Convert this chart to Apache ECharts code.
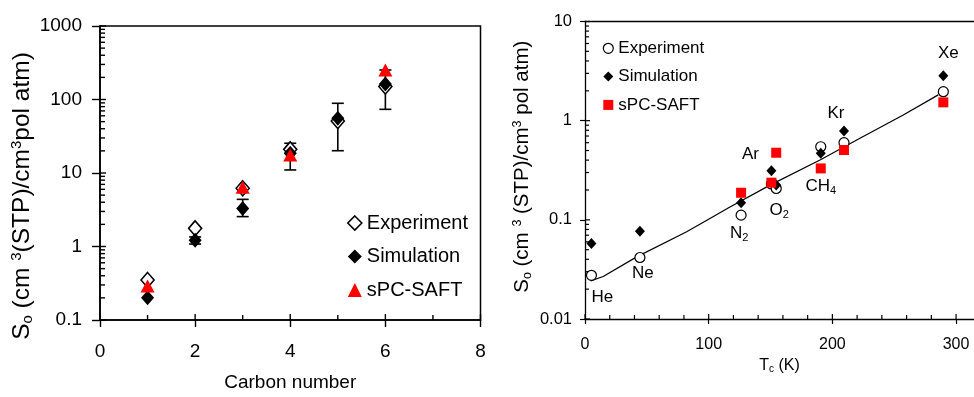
<!DOCTYPE html>
<html>
<head>
<meta charset="utf-8">
<script src="https://cdn.jsdelivr.net/npm/echarts@6/dist/echarts.min.js"></script>
<style>
  html, body { margin: 0; padding: 0; background: #fff; }
  #chart { width: 974px; height: 397px; }
</style>
</head>
<body>
<div id="chart"></div>
<script>
// ---- n-alkanes: infinite-dilution solubility vs carbon number ----
const carbonNumbers = [1, 2, 3, 4, 5, 6];
const alkExperiment = [0.35, 1.77, 6.2, 21, 51, 150];
const alkSimulation = [0.20, 1.22, 3.3, 18.5, 55.5, 163];
const alkSpcSaft    = [0.29, null, 6.4, 17.6, null, 252];
const alkSimLow     = [null, 1.08, 2.55, 11.0, 20.1, 73.5];
const alkSimHigh    = [null, 1.35, 4.38, 25.4, 88.8, 252];

// ---- light gases: solubility vs critical temperature ----
const gases         = ['He', 'Ne', 'N2', 'Ar', 'O2', 'CH4', 'Kr', 'Xe'];
const gasLabels     = ['He', 'Ne', 'N{s|2}', 'Ar', 'O{s|2}', 'CH{s|4}', 'Kr', 'Xe'];
const criticalT     = [5.2, 44.4, 126.2, 150.7, 154.6, 190.6, 209.4, 289.7];
const gasExperiment = [0.0276, 0.0417, 0.1115, 0.23, 0.207, 0.546, 0.60, 1.96];
const gasSimulation = [0.0577, 0.0769, 0.1485, 0.313, 0.224, 0.468, 0.787, 2.83];
const gasSpcSaft    = [null, null, 0.1875, 0.237, 0.475, 0.330, 0.506, 1.53];

// correlation curve
const fitT = [4.6, 14.7, 41.8, 82.2, 101, 117.2, 149.6, 190, 222.3, 257.3, 285.6];
const fitS = [0.0242, 0.0268, 0.0423, 0.0757, 0.1033, 0.135, 0.224, 0.401, 0.664, 1.14, 1.82];

// axis ticks
const leftXTicks  = [0, 2, 4, 6, 8];
const rightXTicks = [0, 100, 200, 300];

// label placement next to the experimental points (px)
const gasLabelOffsets = [[11, 22], [3, 16], [-2, 18], [-21, -30], [3, 22], [0, 40], [-8, -29], [5, -38]];

const FONT = '"Liberation Sans", Arial, Helvetica, sans-serif';
const T_MAX = 314.5;   // right panel is cut at the page edge

function logMinor(expMin, expMax) {
  const out = [];
  for (let e = expMin; e < expMax; e++) {
    for (let m = 2; m <= 9; m++) out.push(m * Math.pow(10, e));
  }
  return out;
}
function logMajor(expMin, expMax) {
  const out = [];
  for (let e = expMin; e <= expMax; e++) out.push(Math.pow(10, e));
  return out;
}

// inner tick marks: [x, y, direction (0 = up from x axis, 1 = right from y axis), length]
function innerTicks(xMajor, xMinor, yMajor, yMinor, xAxisAt, yAxisAt, majorLen, minorLen) {
  const items = [];
  xMajor.forEach(v => items.push([v, yAxisAt, 0, majorLen]));
  xMinor.forEach(v => items.push([v, yAxisAt, 0, minorLen]));
  yMajor.forEach(v => items.push([xAxisAt, v, 1, majorLen]));
  yMinor.forEach(v => items.push([xAxisAt, v, 1, minorLen]));
  return items;
}

function tickSeries(gridIdx, data, width) {
  return {
    type: 'custom', xAxisIndex: gridIdx, yAxisIndex: gridIdx, silent: true, clip: false, z: 1,
    data: data,
    encode: { x: 0, y: 1 },
    renderItem: function (params, api) {
      const p = api.coord([api.value(0), api.value(1)]);
      const dir = api.value(2), len = api.value(3);
      const shape = dir === 0
        ? { x1: p[0], y1: p[1], x2: p[0], y2: p[1] - len }
        : { x1: p[0], y1: p[1], x2: p[0] + len, y2: p[1] };
      return { type: 'line', shape: shape, style: { stroke: '#000', lineWidth: width } };
    }
  };
}

const leftTicks = innerTicks(leftXTicks, [1, 3, 5, 7], logMajor(-1, 3), logMinor(-1, 3), 0, 0.1, 6, 5);
const rightXMinor = [];
for (let t = 20; t < T_MAX; t += 20) if (t % 100 !== 0) rightXMinor.push(t);
const rightTicks = innerTicks(rightXTicks, rightXMinor, logMajor(-2, 1), logMinor(-2, 1), 0, 0.01, 5, 4);

const errorData = [];
carbonNumbers.forEach((c, i) => {
  if (alkSimLow[i] != null) errorData.push([c, alkSimLow[i], alkSimHigh[i]]);
});

const pairs = (xs, ys) => xs.map((x, i) => [x, ys[i]]).filter(p => p[1] != null);

const axisFmt = v => String(Number(v.toPrecision(4)));

const chart = echarts.init(document.getElementById('chart'), null, { renderer: 'canvas' });

const option = {
  animation: false,
  backgroundColor: '#fff',
  textStyle: { fontFamily: FONT, color: '#000' },
  grid: [
    { left: 100, top: 26, width: 380.5, height: 294, show: true, borderColor: '#000', borderWidth: 1.5, backgroundColor: 'transparent', containLabel: false },
    { left: 585, top: 21.5, width: 389, height: 297.5, show: false, containLabel: false }
  ],
  xAxis: [
    {
      gridIndex: 0, type: 'value', min: 0, max: 8, interval: 2,
      axisLine: { lineStyle: { color: '#000', width: 1.6 } },
      axisTick: { show: true, length: 7, lineStyle: { color: '#000', width: 1.4 } },
      splitLine: { show: false },
      axisLabel: { color: '#000', fontSize: 19, fontFamily: FONT, margin: 22 },
      name: 'Carbon number', nameLocation: 'middle', nameGap: 53,
      nameTextStyle: { color: '#000', fontSize: 19, fontFamily: FONT }
    },
    {
      gridIndex: 1, type: 'value', min: 0, max: T_MAX, interval: 100,
      axisLine: { lineStyle: { color: '#000', width: 1.3 } },
      axisTick: { show: true, length: 5, lineStyle: { color: '#000', width: 1.2 } },
      splitLine: { show: false },
      axisLabel: { color: '#000', fontSize: 16, fontFamily: FONT, margin: 18, showMaxLabel: false },
      name: 'T{s|c} (K)', nameLocation: 'middle', nameGap: 38,
      nameTextStyle: {
        color: '#000', fontSize: 16, fontFamily: FONT,
        rich: { s: { fontSize: 10, fontFamily: FONT, color: '#000', verticalAlign: 'bottom', lineHeight: 10 } }
      }
    },
    {
      // top frame line of the right panel
      gridIndex: 1, type: 'value', position: 'top', min: 0, max: T_MAX,
      axisLine: { show: true, lineStyle: { color: '#000', width: 1.3 } },
      axisTick: { show: false }, axisLabel: { show: false }, splitLine: { show: false }
    }
  ],
  yAxis: [
    {
      gridIndex: 0, type: 'log', logBase: 10, min: 0.1, max: 1000, splitNumber: 4,
      axisLine: { lineStyle: { color: '#000', width: 1.6 } },
      axisTick: { show: true, length: 8, lineStyle: { color: '#000', width: 1.4 } },
      splitLine: { show: false },
      axisLabel: { color: '#000', fontSize: 19, fontFamily: FONT, margin: 18, formatter: axisFmt },
      name: 'S{s|o} (cm {p|3}(STP)/cm{p|3}pol atm)', nameLocation: 'middle', nameRotate: 90, nameGap: 65,
      nameTextStyle: {
        color: '#000', fontSize: 24.5, fontFamily: FONT, lineHeight: 26, padding: [0, 46, 0, 0],
        rich: {
          s: { fontSize: 15, fontFamily: FONT, color: '#000', verticalAlign: 'bottom', lineHeight: 15 },
          p: { fontSize: 15, fontFamily: FONT, color: '#000', verticalAlign: 'top', lineHeight: 15 }
        }
      }
    },
    {
      gridIndex: 1, type: 'log', logBase: 10, min: 0.01, max: 10, splitNumber: 3,
      axisLine: { lineStyle: { color: '#000', width: 1.3 } },
      axisTick: { show: true, length: 5, lineStyle: { color: '#000', width: 1.2 } },
      splitLine: { show: false },
      axisLabel: { color: '#000', fontSize: 16.5, fontFamily: FONT, margin: 13, formatter: axisFmt },
      name: 'S{s|o} (cm {p|3} (STP)/cm{p|3} pol atm)', nameLocation: 'middle', nameRotate: 90, nameGap: 51,
      nameTextStyle: {
        color: '#000', fontSize: 20.5, fontFamily: FONT, lineHeight: 23, padding: [0, 0, 0, 7],
        rich: {
          s: { fontSize: 12.5, fontFamily: FONT, color: '#000', verticalAlign: 'bottom', lineHeight: 12.5 },
          p: { fontSize: 12.5, fontFamily: FONT, color: '#000', verticalAlign: 'top', lineHeight: 12.5 }
        }
      }
    }
  ],
  legend: [
    {
      left: 342, top: 208, orient: 'vertical', itemWidth: 14, itemHeight: 14, itemGap: 13.5,
      selectedMode: false,
      formatter: n => n.split(':')[1],
      textStyle: { fontSize: 20, fontFamily: FONT, color: '#000', lineHeight: 20 },
      data: [
        { name: 'alk:Experiment', icon: 'diamond', itemStyle: { color: '#fff', borderColor: '#000', borderWidth: 1.6 } },
        { name: 'alk:Simulation', icon: 'diamond', itemStyle: { color: '#000' } },
        { name: 'alk:sPC-SAFT', icon: 'triangle', itemStyle: { color: '#ff0000' } }
      ]
    },
    {
      left: 597.7, top: 33.8, orient: 'vertical', itemWidth: 10, itemHeight: 10, itemGap: 9.3,
      selectedMode: false,
      formatter: n => n.split(':')[1],
      textStyle: { fontSize: 17, fontFamily: FONT, color: '#000', lineHeight: 19 },
      data: [
        { name: 'gas:Experiment', icon: 'circle', itemStyle: { color: '#fff', borderColor: '#000', borderWidth: 1.2 } },
        { name: 'gas:Simulation', icon: 'diamond', itemStyle: { color: '#000' } },
        { name: 'gas:sPC-SAFT', icon: 'rect', itemStyle: { color: '#ff0000' } }
      ]
    }
  ],
  series: [
    tickSeries(0, leftTicks, 1.4),
    tickSeries(1, rightTicks, 1.2),
    {
      type: 'custom', name: 'errors', xAxisIndex: 0, yAxisIndex: 0, silent: true, clip: false, z: 2,
      data: errorData,
      encode: { x: 0, y: [1, 2] },
      renderItem: function (params, api) {
        const x = api.value(0);
        const lo = api.coord([x, api.value(1)]);
        const hi = api.coord([x, api.value(2)]);
        const half = 6;
        const st = { stroke: '#000', lineWidth: 1.6 };
        return {
          type: 'group',
          children: [
            { type: 'line', shape: { x1: lo[0], y1: lo[1], x2: hi[0], y2: hi[1] }, style: st },
            { type: 'line', shape: { x1: lo[0] - half, y1: lo[1], x2: lo[0] + half, y2: lo[1] }, style: st },
            { type: 'line', shape: { x1: hi[0] - half, y1: hi[1], x2: hi[0] + half, y2: hi[1] }, style: st }
          ]
        };
      }
    },
    {
      type: 'scatter', name: 'alk:Experiment', xAxisIndex: 0, yAxisIndex: 0, z: 3,
      symbol: 'diamond', symbolSize: [13, 15],
      itemStyle: { color: '#fff', borderColor: '#000', borderWidth: 1.6, opacity: 1 },
      data: pairs(carbonNumbers, alkExperiment)
    },
    {
      type: 'scatter', name: 'alk:Simulation', xAxisIndex: 0, yAxisIndex: 0, z: 4,
      symbol: 'diamond', symbolSize: [13, 15],
      itemStyle: { color: '#000', opacity: 1 },
      data: pairs(carbonNumbers, alkSimulation)
    },
    {
      type: 'scatter', name: 'alk:sPC-SAFT', xAxisIndex: 0, yAxisIndex: 0, z: 5,
      symbol: 'triangle', symbolSize: [14, 13],
      itemStyle: { color: '#ff0000', opacity: 1 },
      data: pairs(carbonNumbers, alkSpcSaft)
    },
    {
      type: 'line', name: 'correlation', xAxisIndex: 1, yAxisIndex: 1, z: 2, silent: true,
      showSymbol: false, symbol: 'none',
      lineStyle: { color: '#000', width: 1.2 },
      data: pairs(fitT, fitS)
    },
    {
      type: 'scatter', name: 'gas:Experiment', xAxisIndex: 1, yAxisIndex: 1, z: 3,
      symbol: 'circle', symbolSize: 10,
      itemStyle: { color: '#fff', borderColor: '#000', borderWidth: 1.2, opacity: 1 },
      data: criticalT.map((t, i) => ({
        value: [t, gasExperiment[i]],
        name: gases[i],
        label: {
          show: true, position: 'inside', offset: gasLabelOffsets[i],
          formatter: gasLabels[i],
          color: '#000', fontSize: 17, fontFamily: FONT, lineHeight: 20,
          rich: { s: { fontSize: 11, fontFamily: FONT, color: '#000', verticalAlign: 'bottom', lineHeight: 11 } }
        }
      }))
    },
    {
      type: 'scatter', name: 'gas:Simulation', xAxisIndex: 1, yAxisIndex: 1, z: 4,
      symbol: 'diamond', symbolSize: [10, 11],
      itemStyle: { color: '#000', opacity: 1 },
      data: pairs(criticalT, gasSimulation)
    },
    {
      type: 'scatter', name: 'gas:sPC-SAFT', xAxisIndex: 1, yAxisIndex: 1, z: 5,
      symbol: 'rect', symbolSize: 10,
      itemStyle: { color: '#ff0000', opacity: 1 },
      data: pairs(criticalT, gasSpcSaft)
    }
  ]
};

chart.setOption(option);
</script>
</body>
</html>
